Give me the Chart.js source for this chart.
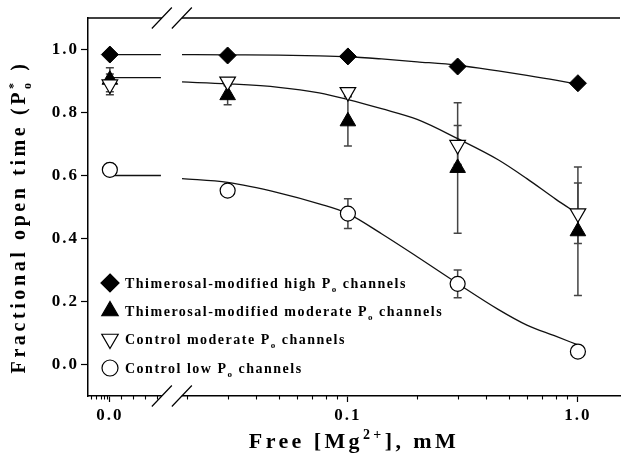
<!DOCTYPE html>
<html>
<head>
<meta charset="utf-8">
<script src="https://cdn.jsdelivr.net/npm/chart.js@4.4.1/dist/chart.umd.min.js"></script>
<style>
  html, body { margin: 0; padding: 0; background: #fff; }
  #wrap { width: 622px; height: 465px; }
</style>
</head>
<body>
<div id="wrap"><canvas id="c" width="622" height="465"></canvas></div>
<script>
// free Mg2+ (mM) of the measured points
const mg = [0, 0.03, 0.1, 0.3, 1.0];

const thimHigh      = [0.984, 0.981, 0.978, 0.946, 0.893];
const thimModerate  = [0.904, 0.855, 0.772, 0.624, 0.423];
const thimModErr    = [0.038, 0.030, 0.078, 0.207, 0.204];
const ctrlModerate  = [0.889, 0.898, 0.865, 0.697, 0.480];
const ctrlModErr    = [0.033, 0.010, 0.010, 0.062, 0.096];
const ctrlLow       = [0.618, 0.552, 0.479, 0.256, 0.041];
const ctrlLowErr    = [0.020, 0.015, 0.047, 0.044, 0.010];

// fitted curves
const fitMg         = [0.019, 0.03, 0.05, 0.075, 0.1, 0.14, 0.2, 0.3, 0.45, 0.6, 0.8, 1.0];
const fitHigh       = [0.984, 0.983, 0.982, 0.980, 0.977, 0.970, 0.961, 0.950, 0.932, 0.918, 0.903, 0.890];
const fitModerate   = [0.897, 0.891, 0.880, 0.862, 0.841, 0.812, 0.778, 0.717, 0.650, 0.590, 0.525, 0.478];
const fitLow        = [0.590, 0.578, 0.545, 0.510, 0.479, 0.415, 0.342, 0.257, 0.175, 0.125, 0.090, 0.062];
// flat fit level in the zero section (left of the break)
const zeroLevels    = [0.984, 0.911, 0.600];

const xTickValues = [0, 0.1, 1.0];
const xTickLabels = ['0.0', '0.1', '1.0'];
const yTickValues = [0, 0.2, 0.4, 0.6, 0.8, 1.0];
const minorMg     = [0.02, 0.03, 0.04, 0.05, 0.06, 0.07, 0.08, 0.09, 0.2, 0.3, 0.4, 0.5, 0.6, 0.7, 0.8, 0.9];

const legendLabels = [
    ['Thimerosal-modified high P', 'o', ' channels'],
    ['Thimerosal-modified moderate P', 'o', ' channels'],
    ['Control moderate P', 'o', ' channels'],
    ['Control low P', 'o', ' channels']
];

// broken axis: zero sits left of the break, the rest is log10
const ZERO_POS = -2.035;
const ZERO_LINE_END = -1.813;
const BREAK_POS = [-1.809, -1.722];
const ZERO_MINOR = [-0.083, -0.061, -0.040, -0.026, -0.014, 0.048, 0.100, 0.152, 0.204];

function xu(v) {
    return v === 0 ? ZERO_POS : Math.log10(v);
}

const SERIF = '"Liberation Serif", "Times New Roman", serif';

function pts(xs, ys) {
    return xs.map((x, i) => ({ x: xu(x), y: ys[i] }));
}

function zeroLine(level) {
    return [{ x: ZERO_POS, y: level }, { x: ZERO_LINE_END, y: level }];
}

function partFont(kind, size) {
    const s = kind ? Math.round(size * 0.62) : size;
    return 'bold ' + s + 'px ' + SERIF;
}

// parts: [text, kind]; kind '' | 'sub' | 'sup' | 'supOver' (stacked over previous part)
function drawRich(ctx, parts, x, y, size, align) {
    let total = 0;
    let prevW = 0;
    const ws = parts.map(p => {
        ctx.font = partFont(p[1], size);
        const w = ctx.measureText(p[0]).width;
        if (p[1] === 'supOver') {
            total += Math.max(0, w - prevW);
        } else {
            total += w;
        }
        prevW = w;
        return w;
    });
    let cx = align === 'center' ? x - total / 2 : x;
    let lastStart = cx;
    parts.forEach((p, i) => {
        ctx.font = partFont(p[1], size);
        let dy = 0;
        if (p[1] === 'sub') dy = size * 0.28;
        if (p[1] === 'sup' || p[1] === 'supOver') dy = -size * 0.42;
        if (p[1] === 'supOver') {
            ctx.fillText(p[0], lastStart, y + dy);
            cx = lastStart + Math.max(ws[i - 1], ws[i]);
        } else {
            lastStart = cx;
            ctx.fillText(p[0], cx, y + dy);
            cx += ws[i];
        }
    });
}

function drawMarker(ctx, style, x, y) {
    ctx.save();
    ctx.lineWidth = 1.2;
    ctx.strokeStyle = '#000';
    ctx.beginPath();
    if (style === 'diamond') {
        const r = 9;
        ctx.moveTo(x, y - r); ctx.lineTo(x + r, y); ctx.lineTo(x, y + r); ctx.lineTo(x - r, y);
        ctx.closePath();
        ctx.fillStyle = '#000';
    } else if (style === 'up') {
        const r = 9.5;
        ctx.moveTo(x, y - r);
        ctx.lineTo(x + r * 0.866, y + r / 2);
        ctx.lineTo(x - r * 0.866, y + r / 2);
        ctx.closePath();
        ctx.fillStyle = '#000';
    } else if (style === 'down') {
        const r = 9.5;
        ctx.moveTo(x, y + r);
        ctx.lineTo(x + r * 0.866, y - r / 2);
        ctx.lineTo(x - r * 0.866, y - r / 2);
        ctx.closePath();
        ctx.fillStyle = '#fff';
    } else {
        ctx.arc(x, y, 8, 0, Math.PI * 2);
        ctx.fillStyle = '#fff';
    }
    ctx.fill();
    ctx.stroke();
    ctx.restore();
}

const errorBars = {
    id: 'errorBars',
    beforeDatasetsDraw(chart) {
        const ctx = chart.ctx;
        const xs = chart.scales.x;
        const ys = chart.scales.y;
        const sets = [[thimModerate, thimModErr], [ctrlModerate, ctrlModErr], [ctrlLow, ctrlLowErr]];
        ctx.save();
        ctx.strokeStyle = '#444';
        ctx.lineWidth = 1.5;
        sets.forEach(([vals, errs]) => {
            vals.forEach((v, i) => {
                const px = xs.getPixelForValue(xu(mg[i]));
                const top = ys.getPixelForValue(v + errs[i]);
                const bot = ys.getPixelForValue(v - errs[i]);
                ctx.beginPath();
                ctx.moveTo(px, top); ctx.lineTo(px, bot);
                ctx.moveTo(px - 4, top); ctx.lineTo(px + 4, top);
                ctx.moveTo(px - 4, bot); ctx.lineTo(px + 4, bot);
                ctx.stroke();
            });
        });
        ctx.restore();
    }
};

const spacing = {
    id: 'spacing',
    beforeDraw(chart) {
        chart.ctx.letterSpacing = '2px';
    }
};

const decorations = {
    id: 'decorations',
    afterDraw(chart) {
        const ctx = chart.ctx;
        const a = chart.chartArea;
        const xs = chart.scales.x;
        ctx.save();
        ctx.letterSpacing = '0px';
        ctx.strokeStyle = '#000';

        // top frame line
        ctx.lineWidth = 1.5;
        ctx.beginPath();
        ctx.moveTo(a.left, a.top);
        ctx.lineTo(a.right, a.top);
        ctx.stroke();

        // minor ticks on the bottom axis
        ctx.lineWidth = 1.1;
        const minors = minorMg.map(v => xu(v)).concat(ZERO_MINOR.map(d => ZERO_POS + d));
        ctx.beginPath();
        minors.forEach(u => {
            const px = Math.round(xs.getPixelForValue(u)) + 0.5;
            ctx.moveTo(px, a.bottom);
            ctx.lineTo(px, a.bottom + 3.5);
        });
        ctx.stroke();

        // axis break marks
        const b0 = xs.getPixelForValue(BREAK_POS[0]);
        const b1 = xs.getPixelForValue(BREAK_POS[1]);
        ctx.fillStyle = '#fff';
        ctx.fillRect(b0, a.top - 2, b1 - b0, 4);
        ctx.fillRect(b0, a.bottom - 2, b1 - b0, 4);
        ctx.lineWidth = 1.2;
        ctx.beginPath();
        [a.top, a.bottom].forEach(yy => {
            [b0, b1].forEach(bx => {
                ctx.moveTo(bx - 10, yy + 10.5);
                ctx.lineTo(bx + 10, yy - 10.5);
            });
        });
        ctx.stroke();

        // legend
        ctx.fillStyle = '#000';
        ctx.letterSpacing = '1.5px';
        ctx.textBaseline = 'alphabetic';
        ctx.textAlign = 'left';
        const styles = ['diamond', 'up', 'down', 'circle'];
        const rows = [283, 311, 339, 368];
        legendLabels.forEach((lab, i) => {
            drawMarker(ctx, styles[i], 110, rows[i]);
            ctx.fillStyle = '#000';
            drawRich(ctx, [[lab[0], ''], [lab[1], 'sub'], [lab[2], '']], 125, rows[i] + 5, 14, 'left');
        });

        // axis titles
        ctx.letterSpacing = '3.4px';
        drawRich(ctx, [['Free [Mg', ''], ['2+', 'sup'], ['], mM', '']], 354, 448, 22, 'center');

        ctx.save();
        ctx.translate(25, 217);
        ctx.rotate(-Math.PI / 2);
        ctx.letterSpacing = '3.6px';
        drawRich(ctx, [['Fractional open time (P', ''], ['o', 'sub'], ['*', 'supOver'], [' )', '']], 0, 0, 20, 'center');
        ctx.restore();

        ctx.restore();
    }
};

const lineStyle = {
    showLine: true,
    pointRadius: 0,
    borderColor: '#111',
    borderWidth: 1.3,
    fill: false,
    cubicInterpolationMode: 'monotone'
};

new Chart(document.getElementById('c'), {
    type: 'scatter',
    data: {
        datasets: [
            {
                label: 'Thimerosal-modified high Po channels',
                data: pts(mg, thimHigh),
                pointStyle: 'rectRot',
                pointRadius: 8.5,
                pointBackgroundColor: '#000',
                pointBorderColor: '#000',
                pointBorderWidth: 1
            },
            {
                label: 'Control moderate Po channels',
                data: pts(mg, ctrlModerate),
                pointStyle: 'triangle',
                rotation: 180,
                pointRadius: 9,
                pointBackgroundColor: '#fff',
                pointBorderColor: '#000',
                pointBorderWidth: 1.2
            },
            {
                label: 'Thimerosal-modified moderate Po channels',
                data: pts(mg, thimModerate),
                pointStyle: 'triangle',
                pointRadius: 9,
                pointBackgroundColor: '#000',
                pointBorderColor: '#000',
                pointBorderWidth: 1
            },
            {
                label: 'Control low Po channels',
                data: pts(mg, ctrlLow),
                pointStyle: 'circle',
                pointRadius: 7.5,
                pointBackgroundColor: '#fff',
                pointBorderColor: '#000',
                pointBorderWidth: 1.2
            },
            { ...lineStyle, label: 'fit high', data: pts(fitMg, fitHigh) },
            { ...lineStyle, label: 'fit moderate', data: pts(fitMg, fitModerate) },
            { ...lineStyle, label: 'fit low', data: pts(fitMg, fitLow) },
            { ...lineStyle, label: 'zero high', data: zeroLine(zeroLevels[0]) },
            { ...lineStyle, label: 'zero moderate', data: zeroLine(zeroLevels[1]) },
            { ...lineStyle, label: 'zero low', data: zeroLine(zeroLevels[2]) }
        ]
    },
    options: {
        responsive: false,
        devicePixelRatio: 1,
        animation: false,
        layout: { autoPadding: false, padding: { top: 18, right: 2, left: 0, bottom: 0 } },
        plugins: {
            legend: { display: false },
            tooltip: { enabled: false }
        },
        scales: {
            x: {
                type: 'linear',
                min: -2.130,
                max: 0.183,
                afterFit: s => { s.height = 69; },
                afterBuildTicks: s => { s.ticks = xTickValues.map(v => ({ value: xu(v) })); },
                ticks: {
                    callback: (val, i) => xTickLabels[i],
                    color: '#000',
                    padding: 3,
                    font: { family: SERIF, size: 17, weight: 'bold' }
                },
                grid: {
                    drawOnChartArea: false,
                    drawTicks: true,
                    tickLength: 6,
                    tickColor: '#000',
                    tickWidth: 1.2
                },
                border: { display: true, color: '#000', width: 1.5 }
            },
            y: {
                min: -0.1,
                max: 1.1,
                afterFit: s => { s.width = 88; },
                afterBuildTicks: s => { s.ticks = yTickValues.map(v => ({ value: v })); },
                ticks: {
                    callback: v => v.toFixed(1),
                    color: '#000',
                    padding: 2,
                    font: { family: SERIF, size: 17, weight: 'bold' }
                },
                grid: {
                    drawOnChartArea: false,
                    drawTicks: true,
                    tickLength: 7,
                    tickColor: '#000',
                    tickWidth: 1.2
                },
                border: { display: true, color: '#000', width: 1.5 }
            }
        }
    },
    plugins: [spacing, errorBars, decorations]
});
</script>
</body>
</html>
